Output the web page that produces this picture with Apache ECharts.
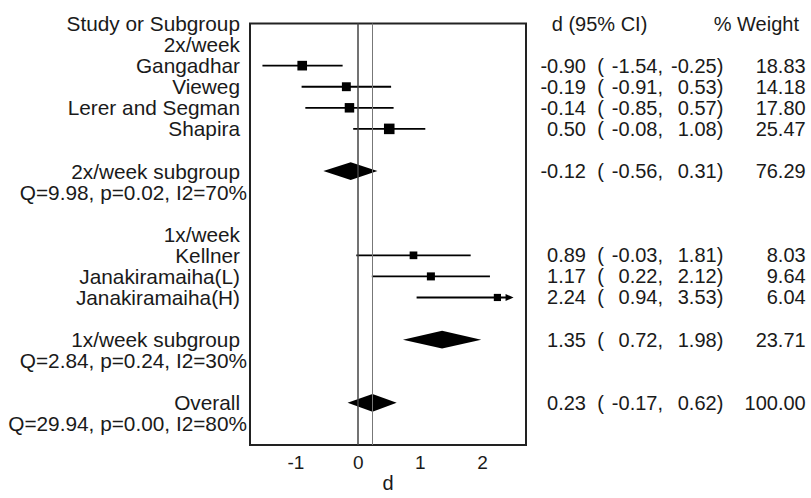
<!DOCTYPE html>
<html>
<head>
<meta charset="utf-8">
<script src="https://cdn.jsdelivr.net/npm/echarts@6/dist/echarts.min.js"></script>
<style>
  html, body { margin: 0; padding: 0; background: #fff; }
  #chart { width: 811px; height: 498px; }
</style>
</head>
<body>
<div id="chart"></div>
<script>
// single studies
const studies = ['Gangadhar', 'Vieweg', 'Lerer and Segman', 'Shapira', 'Kellner', 'Janakiramaiha(L)', 'Janakiramaiha(H)'];
const studyRows = [2, 3, 4, 5, 11, 12, 13];
const studyEst = [-0.90, -0.19, -0.14, 0.50, 0.89, 1.17, 2.24];
const studyLo = [-1.54, -0.91, -0.85, -0.08, -0.03, 0.22, 0.94];
const studyHi = [-0.25, 0.53, 0.57, 1.08, 1.81, 2.12, 3.53];
const studyWeight = [18.83, 14.18, 17.80, 25.47, 8.03, 9.64, 6.04];

// pooled estimates
const pooled = ['2x/week subgroup', '1x/week subgroup', 'Overall'];
const pooledRows = [7, 15, 18];
const pooledEst = [-0.12, 1.35, 0.23];
const pooledLo = [-0.56, 0.72, -0.17];
const pooledHi = [0.31, 1.98, 0.62];
const pooledWeight = [76.29, 23.71, 100.00];
const pooledStats = ['Q=9.98, p=0.02, I2=70%', 'Q=2.84, p=0.24, I2=30%', 'Q=29.94, p=0.00, I2=80%'];
const statRows = [8, 16, 19];

const groups = ['2x/week', '1x/week'];
const groupRows = [1, 10];

const xTicks = [-1, 0, 1, 2];
const arrowAt = 2.5; // CI drawn clipped here with an arrow

const FONT = "'Liberation Sans', Arial, sans-serif";
const TXT = '#1a1a1a';

// left labels per row
const leftLabels = { 0: 'Study or Subgroup' };
groups.forEach((g, i) => { leftLabels[groupRows[i]] = g; });
studies.forEach((s, i) => { leftLabels[studyRows[i]] = s; });
pooled.forEach((s, i) => { leftLabels[pooledRows[i]] = s; });
const statLabels = {};
pooledStats.forEach((s, i) => { statLabels[statRows[i]] = s; });

// right columns per row
const f2 = v => v.toFixed(2);
const rightLabels = { 0: '{hd|d (95% CI)}{hw|% Weight}' };
function ciText(e, l, h, w) {
  return '{d|' + f2(e) + '}{op|(}{lo|' + f2(l) + ',}{hi|' + f2(h) + ')}{w|' + f2(w) + '}';
}
studies.forEach((s, i) => {
  rightLabels[studyRows[i]] = ciText(studyEst[i], studyLo[i], studyHi[i], studyWeight[i]);
});
pooled.forEach((s, i) => {
  rightLabels[pooledRows[i]] = ciText(pooledEst[i], pooledLo[i], pooledHi[i], pooledWeight[i]);
});

const tok = (width, align) => ({ width: width, align: align, fontSize: 20, lineHeight: 20, fontFamily: FONT, color: TXT });

const chart = echarts.init(document.getElementById('chart'), null, { renderer: 'svg' });

const yBase = {
  type: 'value', min: 0, max: 20, interval: 1, inverse: true,
  axisLine: { show: false }, axisTick: { show: false }, splitLine: { show: false }
};
const labelBase = {
  fontSize: 20.8, lineHeight: 20, fontFamily: FONT, color: TXT,
  showMinLabel: true, showMaxLabel: true, hideOverlap: false
};

const option = {
  backgroundColor: '#fff',
  animation: false,
  grid: {
    left: 250, right: 285, top: 23.5, bottom: 46.3,
    show: true, borderColor: '#222', borderWidth: 2
  },
  xAxis: {
    type: 'value', min: -1.74, max: 2.70,
    name: 'd', nameLocation: 'middle', nameGap: 28, nameMoveOverlap: false,
    nameTextStyle: { fontSize: 20, fontFamily: FONT, color: TXT },
    axisLine: { show: false }, axisTick: { show: false }, splitLine: { show: false },
    axisLabel: {
      customValues: xTicks, margin: 8,
      fontSize: 19, fontFamily: FONT, color: TXT
    }
  },
  yAxis: [
    Object.assign({}, yBase, {
      position: 'left',
      axisLabel: Object.assign({}, labelBase, {
        margin: 10,
        formatter: v => leftLabels[Math.round(v)] || ''
      })
    }),
    Object.assign({}, yBase, {
      position: 'left',
      axisLabel: Object.assign({}, labelBase, {
        margin: 3,
        formatter: v => statLabels[Math.round(v)] || ''
      })
    }),
    Object.assign({}, yBase, {
      position: 'right',
      axisLabel: Object.assign({}, labelBase, {
        margin: 8, fontSize: 20,
        formatter: v => rightLabels[Math.round(v)] || '',
        rich: {
          d: tok(52, 'right'),
          op: tok(18, 'right'),
          lo: tok(59, 'right'),
          hi: tok(60.3, 'right'),
          w: tok(82.4, 'right'),
          hd: tok(113.3, 'right'),
          hw: tok(151.7, 'right')
        }
      })
    })
  ],
  series: [
    {
      // reference lines at 0 and the overall estimate
      type: 'line', data: [], z: 1,
      markLine: {
        silent: true, symbol: 'none', label: { show: false },
        data: [
          { xAxis: 0, lineStyle: { color: '#444', width: 1.5, type: 'solid' } },
          { xAxis: pooledEst[2], lineStyle: { color: '#777', width: 1, type: 'solid' } }
        ]
      }
    },
    {
      type: 'custom', z: 3, clip: false,
      encode: { x: [0, 1, 2], y: 3 },
      data: studies.map((s, i) => [studyLo[i], studyHi[i], studyEst[i], studyRows[i], studyWeight[i]]),
      renderItem: function (params, api) {
        const lo = api.value(0), hi = api.value(1), est = api.value(2), row = api.value(3), w = api.value(4);
        const capped = hi > arrowAt;
        const p0 = api.coord([lo, row]);
        const p1 = api.coord([capped ? arrowAt : hi, row]);
        const pe = api.coord([est, row]);
        const s = 4 + 1.3 * Math.sqrt(w);
        const children = [
          { type: 'line', shape: { x1: p0[0], y1: p0[1], x2: capped ? p1[0] - 6 : p1[0], y2: p1[1] },
            style: { stroke: '#000', lineWidth: 1.8 } },
          { type: 'rect', shape: { x: pe[0] - s / 2, y: pe[1] - s / 2, width: s, height: s },
            style: { fill: '#000' } }
        ];
        if (capped) {
          children.push({ type: 'polygon',
            shape: { points: [[p1[0] - 8, p1[1] - 3.5], [p1[0], p1[1]], [p1[0] - 8, p1[1] + 3.5]] },
            style: { fill: '#000' } });
        }
        return { type: 'group', children: children };
      }
    },
    {
      type: 'custom', z: 3, clip: false,
      encode: { x: [0, 1, 2], y: 3 },
      data: pooled.map((s, i) => [pooledLo[i], pooledHi[i], pooledEst[i], pooledRows[i]]),
      renderItem: function (params, api) {
        const lo = api.value(0), hi = api.value(1), est = api.value(2), row = api.value(3);
        return {
          type: 'polygon',
          shape: { points: [
            api.coord([lo, row]), api.coord([est, row - 0.42]),
            api.coord([hi, row]), api.coord([est, row + 0.42])
          ] },
          style: { fill: '#000' }
        };
      }
    }
  ]
};

chart.setOption(option);
</script>
</body>
</html>
